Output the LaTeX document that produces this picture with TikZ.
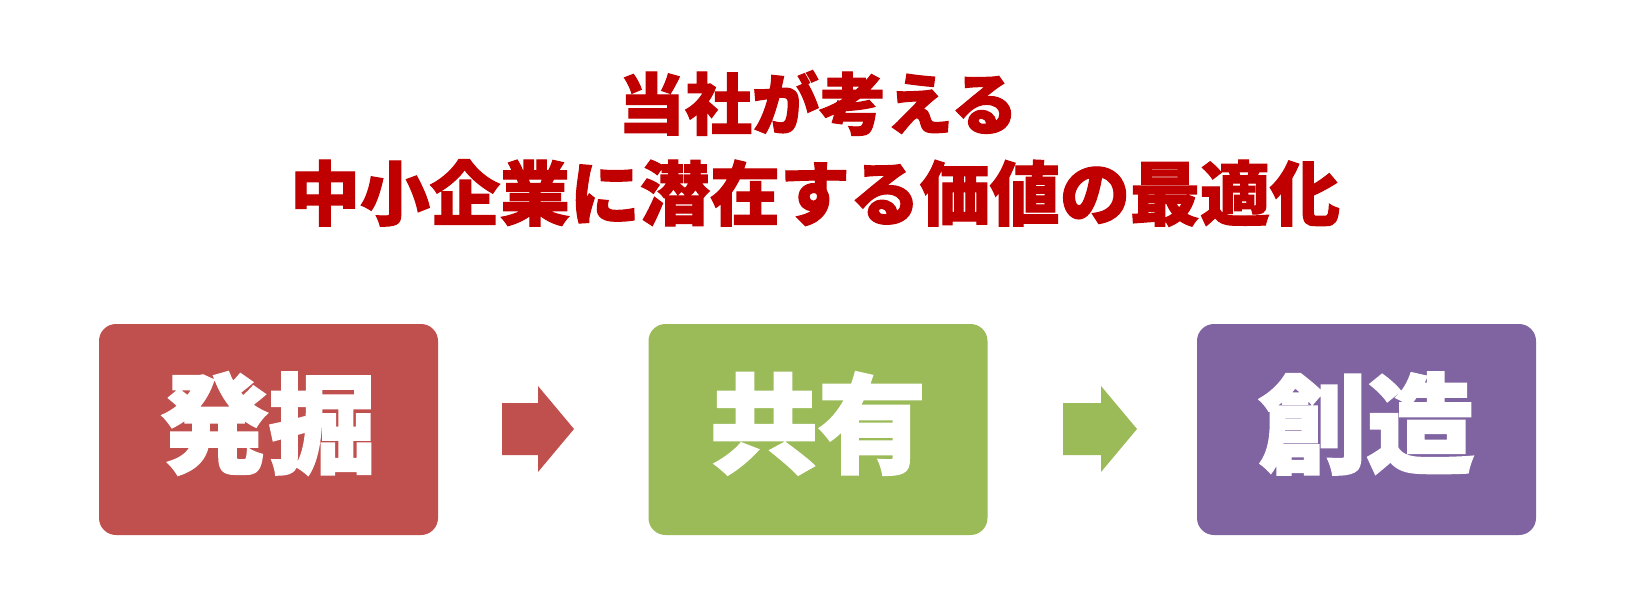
\documentclass[tikz,border=0pt]{standalone}
\usepackage{fontspec}
\newfontfamily\jpbox{Noto Sans CJK JP}[BoldFeatures={FakeBold=2}]
\newfontfamily\jptitle{Noto Sans CJK JP}[BoldFeatures={FakeBold=1.6}]
\definecolor{titlered}{HTML}{C00000}
\definecolor{boxred}{HTML}{C0504D}
\definecolor{boxgreen}{HTML}{9BBB59}
\definecolor{boxpurple}{HTML}{8064A2}
\tikzset{
  stepbox/.style={rectangle, rounded corners=17pt, minimum width=339pt, minimum height=211pt,
    inner sep=0pt},
  boxlabel/.style={inner sep=0pt, text=white, font=\jpbox\bfseries\fontsize{108}{108}\selectfont},
  titletext/.style={inner sep=0pt, text=titlered, font=\jptitle\bfseries\fontsize{67}{80}\selectfont},
}
\begin{document}
\begin{tikzpicture}[x=1pt,y=-1pt]
\useasboundingbox[fill=white] (0,0) rectangle (1634,589);
\node[titletext] (t1) at (818,103) {当社が考える};
\node[titletext, font=\jptitle\bfseries\fontsize{70}{80}\selectfont] (t2) at (815,193) {中小企業に潜在する価値の最適化};
\node[stepbox, fill=boxred] (b1) at (268.5,429.5) {};
\node[stepbox, fill=boxgreen] (b2) at (818,429.5) {};
\node[stepbox, fill=boxpurple] (b3) at (1366.5,429.5) {};
\node[boxlabel] (l1) at ([yshift=6pt]b1.center) {発掘};
\node[boxlabel] (l2) at ([yshift=6pt]b2.center) {共有};
\node[boxlabel] (l3) at ([yshift=6pt]b3.center) {創造};
\fill[boxred] (502,403) -- (538,403) -- (538,386) -- (574,429) -- (538,472) -- (538,455) -- (502,455) -- cycle;
\fill[boxgreen] (1063,403) -- (1101,403) -- (1101,386) -- (1137,429) -- (1101,472) -- (1101,455) -- (1063,455) -- cycle;
\end{tikzpicture}
\end{document}
